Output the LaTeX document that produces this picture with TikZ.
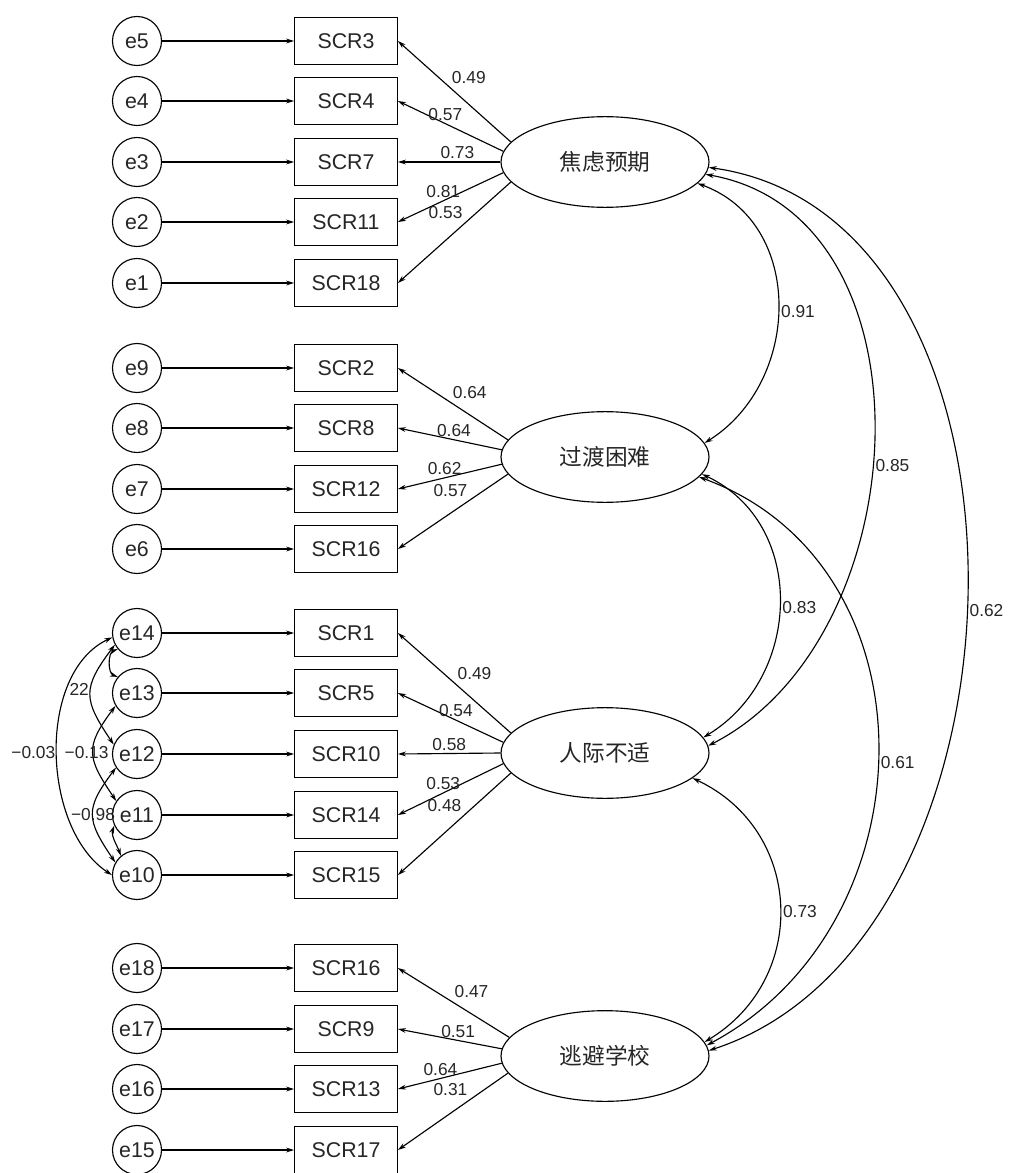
\documentclass[tikz,border=0pt]{standalone}
\usepackage{fontspec}
\setmainfont{Liberation Sans}
\newfontfamily\cjk{Noto Sans CJK SC}
\usepackage{tikz}
\usetikzlibrary{arrows.meta, shapes.geometric}

\begin{document}
\begin{tikzpicture}[x=0.75pt, y=-0.75pt, line width=0.85pt,
  >={Stealth[length=6pt,width=3.6pt]},
  err/.style={draw, circle, minimum size=36.75pt, inner sep=0pt, text=black!85, font=\fontsize{16}{18}\selectfont},
  obs/.style={draw, rectangle, minimum width=77pt, minimum height=35pt, inner sep=0pt, text=black!85, font=\fontsize{16}{18}\selectfont},
  lat/.style={draw, ellipse, minimum width=156pt, minimum height=68pt, inner sep=0pt, text=black!85, font=\cjk\fontsize{17}{19}\selectfont},
  lbl/.style={inner sep=2pt, text=black!85, font=\fontsize{13}{15}\selectfont}]
  \useasboundingbox (0,0) rectangle (1020,1173);

  % error terms and observed items
  \foreach \e/\b/\t/\y in {5/scr3/SCR3/41, 4/scr4/SCR4/101, 3/scr7/SCR7/162, 2/scr11/SCR11/222, 1/scr18/SCR18/283,
      9/scr2/SCR2/368, 8/scr8/SCR8/428, 7/scr12/SCR12/489, 6/scr16/SCR16/549,
      14/scr1/SCR1/633, 13/scr5/SCR5/693, 12/scr10/SCR10/754, 11/scr14/SCR14/815, 10/scr15/SCR15/875,
      18/scr16b/SCR16/968, 17/scr9/SCR9/1029, 16/scr13/SCR13/1089, 15/scr17/SCR17/1150} {
    \node[err] (e\e) at (137,\y) {e\e};
    \node[obs] (\b) at (346,\y) {\t};
    \draw[->] (e\e) -- (\b);
  }

  % latent factors
  \node[lat] (anx) at (605,162) {焦虑预期};
  \node[lat] (trans) at (605,457) {过渡困难};
  \node[lat] (inter) at (605,753) {人际不适};
  \node[lat] (avoid) at (605,1056) {逃避学校};

  % loadings
  \draw[->] (anx.168) -- node[lbl, pos=.55, anchor=south west] {0.49} (scr3.east);
  \draw[->] (anx.174) -- node[lbl, pos=.55, above] {0.57} (scr4.east);
  \draw[->] (anx.180) -- node[lbl, pos=.42, above] {0.73} (scr7.east);
  \draw[->] (anx.186) -- node[lbl, pos=.57, above] {0.81} (scr11.east);
  \draw[->] (anx.192) -- node[lbl, pos=.4, anchor=south east] {0.53} (scr18.east);

  \draw[->] (trans.170) -- node[lbl, pos=.53, anchor=south west] {0.64} (scr2.east);
  \draw[->] (trans.176) -- node[lbl, pos=.46, above] {0.64} (scr8.east);
  \draw[->] (trans.184) -- node[lbl, pos=.55, above] {0.62} (scr12.east);
  \draw[->] (trans.190) -- node[lbl, pos=.34, anchor=south east] {0.57} (scr16.east);

  \draw[->] (inter.168) -- node[lbl, pos=.5, anchor=south west] {0.49} (scr1.east);
  \draw[->] (inter.174) -- node[lbl, pos=.45, above] {0.54} (scr5.east);
  \draw[->] (inter.180) -- node[lbl, pos=.5, above] {0.58} (scr10.east);
  \draw[->] (inter.186) -- node[lbl, pos=.57, above] {0.53} (scr14.east);
  \draw[->] (inter.192) -- node[lbl, pos=.41, anchor=south east] {0.48} (scr15.east);

  \draw[->] (avoid.169) -- node[lbl, pos=.52, anchor=south west] {0.47} (scr16b.east);
  \draw[->] (avoid.176) -- node[lbl, pos=.42, above] {0.51} (scr9.east);
  \draw[->] (avoid.184) -- node[lbl, pos=.59, above] {0.64} (scr13.east);
  \draw[->] (avoid.190) -- node[lbl, pos=.34, anchor=south east] {0.31} (scr17.east);

  % factor correlations
  \draw[<->] (anx.-13) to[out=-20, in=32, distance=86pt] node[lbl, right, pos=.52] {0.91} (trans.8);
  \draw[<->] (anx.-7) to[out=-10, in=27, distance=178pt] node[lbl, right, pos=.54] {0.85} (inter.4);
  \draw[<->] (anx.-3) to[out=-8, in=18, distance=266pt] node[lbl, right, pos=.52] {0.62} (avoid.3);
  \draw[<->] (trans.-10) to[out=-25, in=31, distance=87pt] node[lbl, right, pos=.52] {0.83} (inter.9);
  \draw[<->] (trans.-12) to[out=-20, in=28, distance=192pt] node[lbl, right, pos=.52] {0.61} (avoid.6);
  \draw[<->] (inter.-16) to[out=-25, in=31, distance=92pt] node[lbl, right, pos=.52] {0.73} (avoid.8);

  % error covariances
  \draw[<->] (e14.220) to[out=200, in=160, distance=8pt] (e13.140);
  \draw[<->] (e14.208) to[out=233, in=124, distance=41pt] node[lbl, left, inner sep=1pt, pos=.45] {22} (e12.158);
  \draw[<->] (e13.211) to[out=233, in=124, distance=39pt] node[lbl, pos=.5, xshift=-5pt] {−0.13} (e11.146);
  \draw[<->] (e12.213) to[out=233, in=124, distance=39pt] node[lbl, pos=.5] {−0.98} (e10.150);
  \draw[<->] (e11.205) to[out=250, in=110, distance=8pt] (e10.130);
  \draw[<->] (e14.190) to[out=205, in=147, distance=63pt] node[lbl, left, inner sep=1pt] {−0.03} (e10.180);
\end{tikzpicture}
\end{document}
